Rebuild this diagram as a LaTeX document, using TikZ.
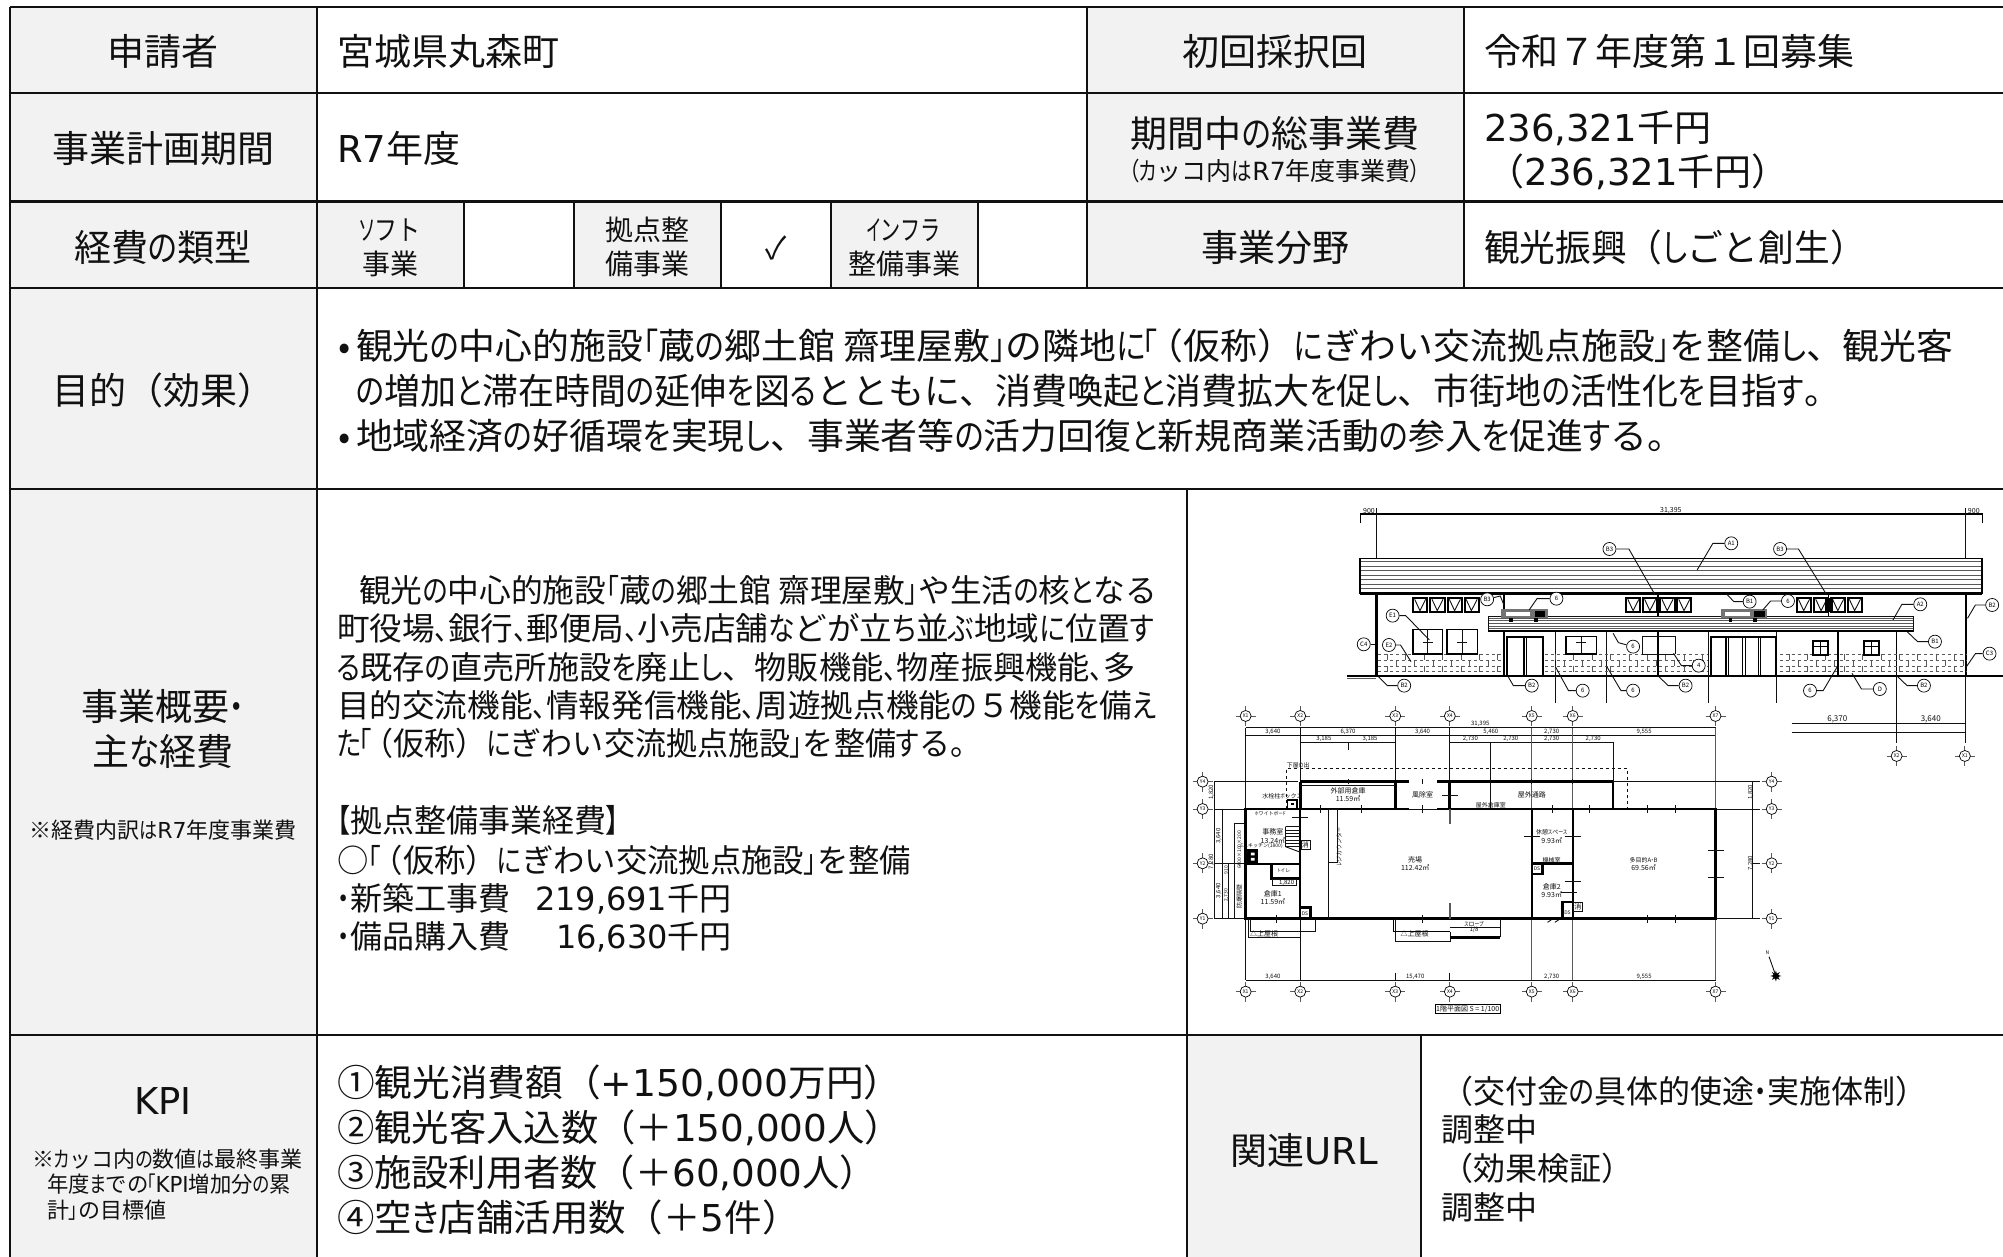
\documentclass[tikz,border=0pt]{standalone}
\usepackage{fontspec}
\usepackage{graphicx}
\usetikzlibrary{shapes.geometric}
\setmainfont{Noto Sans CJK JP}
\newfontfamily\basef{Noto Sans CJK JP}
\newfontfamily\kanaf{Noto Sans CJK JP}[RawFeature={+palt;-kern},FakeStretch=0.82]
\newfontfamily\kataf{Noto Sans CJK JP}[RawFeature={+palt;-kern},FakeStretch=0.76]
\newfontfamily\latf{DejaVu Sans}
\newcommand\lf[1]{{\latf #1}}
\newcommand\tk{\kern-.08em}
\newcommand\pk{\kern-.3em}
\makeatletter
\newXeTeXintercharclass\kanaC
\newXeTeXintercharclass\kataC
\@tempcnta="3041
\loop \XeTeXcharclass\@tempcnta=\kanaC \ifnum\@tempcnta<"30FF \advance\@tempcnta 1 \repeat
\@tempcnta="30A1
\loop \XeTeXcharclass\@tempcnta=\kataC \ifnum\@tempcnta<"30FA \advance\@tempcnta 1 \repeat
\XeTeXcharclass"300C=\kanaC \XeTeXcharclass"300D=\kanaC \XeTeXcharclass"3001=\kanaC \XeTeXcharclass"3002=\kanaC
\XeTeXcharclass"3010=\kanaC \XeTeXcharclass"3011=\kanaC
\def\setcl#1{%
 \XeTeXinterchartoks #1 \kanaC={\kanaf}\XeTeXinterchartoks \kanaC #1={\basef}%
 \XeTeXinterchartoks #1 \kataC={\kataf}\XeTeXinterchartoks \kataC #1={\basef}}
\setcl{0}\setcl{1}\setcl{2}\setcl{3}\setcl{4095}
\XeTeXinterchartoks \kanaC \kataC={\kataf}
\XeTeXinterchartoks \kataC \kanaC={\kanaf}
\makeatother
\definecolor{cellgray}{HTML}{F2F2F2}
\definecolor{ink}{HTML}{111111}
\tikzset{
 lab/.style={inner sep=0pt,outer sep=0pt,text=ink},
 grid/.style={draw=ink,line width=2.6pt},
 thinl/.style={draw=ink,line width=0.9pt},
 hair/.style={draw=black!65,line width=0.7pt},
 med/.style={draw=black,line width=1.6pt},
 wall/.style={draw=black,line width=2.8pt},
 calloutc/.style={circle,draw=black,line width=0.7pt,fill=white,minimum size=13pt,inner sep=0pt},
}
% left / centred single lines of text, given the vertical centre of the line
\newcommand\tl[5]{\node[lab,anchor=base west] (#1) at (#2,{#3+0.385*#4}) {\XeTeXinterchartokenstate=1 \fontsize{#4}{#4}\selectfont #5};}
\newcommand\tc[5]{\node[lab,anchor=base] (#1) at (#2,{#3+0.385*#4}) {\XeTeXinterchartokenstate=1 \fontsize{#4}{#4}\selectfont #5};}
% small drawing label: x y size rotation text
\newcommand\dl[5]{\node[lab,rotate=#4] at (#1,#2) {\XeTeXinterchartokenstate=1 \fontsize{#3}{#3}\selectfont #5};}
\newcommand\axm[3]{%
 \draw[hair,line width=0.9pt] (#1,#2) ++(-10pt,0) -- ++(20pt,0);
 \draw[hair,line width=0.9pt] (#1,#2) ++(0,-10pt) -- ++(0,20pt);
 \node[circle,draw=black,line width=0.7pt,fill=white,minimum size=11pt,inner sep=0pt] at (#1,#2) {\XeTeXinterchartokenstate=1 \fontsize{5}{5}\selectfont #3};}
\newcommand\co[4]{\node[calloutc] (#1) at (#2,#3) {\XeTeXinterchartokenstate=1 \fontsize{6}{6}\selectfont #4};}
\begin{document}
\begin{tikzpicture}[x=1pt,y=-1pt]
\useasboundingbox (0,0) rectangle (2003,1257);
\fill[white] (0,0) rectangle (2003,1257);
\clip (0,0) rectangle (2003,1257);
% cell fills
\fill[cellgray] (10,7) rectangle (317,1270);
\fill[cellgray] (1087,7) rectangle (1464,288);
\fill[cellgray] (317,201) rectangle (464,288);
\fill[cellgray] (574,201) rectangle (721,288);
\fill[cellgray] (831,201) rectangle (978,288);
\fill[cellgray] (1187,1035) rectangle (1421,1270);
% table rules
\draw[grid] (10,7) -- (2010,7);
\draw[grid] (10,93) -- (2010,93);
\draw[grid] (10,201.5) -- (2010,201.5);
\draw[grid] (10,288) -- (2010,288);
\draw[grid] (10,489) -- (2010,489);
\draw[grid] (10,1035) -- (2010,1035);
\draw[grid] (10,7) -- (10,1270);
\draw[grid] (317,7) -- (317,1270);
\draw[grid] (1087,7) -- (1087,288);
\draw[grid] (1464,7) -- (1464,288);
\draw[grid,line width=1.8pt] (464,201.5) -- (464,288);
\draw[grid,line width=1.8pt] (574,201.5) -- (574,288);
\draw[grid,line width=1.8pt] (721,201.5) -- (721,288);
\draw[grid,line width=1.8pt] (831,201.5) -- (831,288);
\draw[grid,line width=1.8pt] (978,201.5) -- (978,288);
\draw[grid] (1187,489) -- (1187,1270);
\draw[grid] (1421,1035) -- (1421,1270);
% row heads and values
\tc{a1}{163}{51}{37}{申請者}
\tl{a2}{337}{51}{37}{宮城県丸森町}
\tc{a3}{1275}{51}{37}{初回採択回}
\tl{a4}{1484}{51}{37}{令和７年度第１回募集}
\tc{b1}{163}{148}{37}{事業計画期間}
\tl{b2}{337}{148}{37}{\lf{R7}年度}
\tc{b3}{1275}{133}{37}{期間中の総事業費}
\tc{b4}{1275}{171}{25}{{\kanaf （}カッコ内は\lf{R7}年度事業費{\kanaf ）}}
\tl{b5}{1484}{127}{37}{\lf{236,321}千円}
\tl{b6}{1484}{171}{37}{\hspace{0.1em}（\lf{236,321}千円）}
\tc{c1}{163}{247}{37}{経費の類型}
\tc{c2}{390}{230}{28}{\scalebox{.82}[1]{ソフト}}
\tc{c3}{390}{264}{28}{事業}
\tc{c4}{647}{230}{28}{拠点整}
\tc{c5}{647}{264}{28}{備事業}
\tc{c6}{776}{248}{31}{✓}
\tc{c7}{904}{230}{28}{\scalebox{.72}[1]{インフラ}}
\tc{c8}{904}{264}{28}{整備事業}
\tc{c9}{1275}{247}{37}{事業分野}
\tl{c10}{1484}{247}{37}{\scalebox{.965}[1]{観光振興（しごと創生）}}
\tc{d1}{163}{390}{37}{目的（効果）}
\tl{d2}{338}{346}{36}{\makebox[18pt][l]{•}\scalebox{1.024}[1]{観光の中心的施設「蔵の郷土館 齋理屋敷」の隣地に\tk「\pk（仮称）にぎわい交流拠点施設」を整備し、観光客}}
\tl{d3}{356}{391}{36}{の増加と滞在時間の延伸を図るとともに、消費喚起と消費拡大を促し、市街地の活性化を目指す。}
\tl{d4}{338}{436}{36}{\makebox[18pt][l]{•}\scalebox{1.024}[1]{地域経済の好循環を実現し、事業者等の活力回復と新規商業活動の参入を促進する。}}
\tc{e1}{163}{706}{37}{事業概要・}
\tc{e2}{163}{751}{37}{主な経費}
\tc{e3}{163}{830}{22}{※経費内訳は\lf{R7}年度事業費}
\tl{e4}{359}{590}{32}{\scalebox{.992}[1]{観光の中心的施設「蔵の郷土館 齋理屋敷」や生活の核となる}}
\tl{e5}{337}{628.5}{32}{\scalebox{1.019}[1]{町役場、銀行、郵便局、小売店舗などが立ち並ぶ地域に位置す}}
\tl{e6}{337}{667}{32}{\scalebox{1.006}[1]{る既存の直売所施設を廃止し、物販機能、物産振興機能、多}}
\tl{e7}{337}{705}{32}{\scalebox{1.02}[1]{目的交流機能、情報発信機能、周遊拠点機能の５機能を備え}}
\tl{e8}{337}{743.5}{32}{\scalebox{.97}[1]{た\tk「\pk（仮称）にぎわい交流拠点施設」を整備する。}}
\tl{e9}{337}{820}{32}{【拠点整備事業経費】}
\tl{e10}{337}{860}{32}{\scalebox{.98}[1]{○「\pk（仮称）にぎわい交流拠点施設」を整備}}
\tl{e11}{337}{898}{32}{・新築工事費}
\tl{e12}{535}{898}{32}{\lf{219,691}千円}
\tl{e13}{337}{936}{32}{・備品購入費}
\tl{e14}{556}{936}{32}{\lf{16,630}千円}
\tc{f1}{163}{1100}{37}{\lf{KPI}}
\tl{f2}{32}{1159}{22}{※カッコ内の数値は最終事業}
\tl{f3}{47}{1184}{22}{\scalebox{.97}[1]{年度までの\tk「\lf{KPI}増加分の累}}
\tl{f4}{47}{1210}{22}{計」の目標値}
\tl{f5}{337}{1082}{37}{\scalebox{1.019}[1]{①観光消費額（\lf{+150,000}万円）}}
\tl{f6}{337}{1127}{37}{\scalebox{1.009}[1]{②観光客入込数（＋\lf{150,000}人）}}
\tl{f7}{337}{1172}{37}{\scalebox{1.007}[1]{③施設利用者数（＋\lf{60,000}人）}}
\tl{f8}{337}{1217}{37}{\scalebox{1.012}[1]{④空き店舗活用数（＋\lf{5}件）}}
\tc{g1}{1304}{1150}{37}{関連\lf{URL}}
\tl{g2}{1441}{1091}{32}{（交付金の具体的使途・実施体制）}
\tl{g3}{1441}{1129}{32}{調整中}
\tl{g4}{1441}{1168}{32}{（効果検証）}
\tl{g5}{1441}{1207}{32}{調整中}
% ---------- elevation ----------
\begin{scope}[x=0.525pt,y=-0.3333pt,shift={(1180pt,-490pt)}]
 % dimension line
 \draw[med,line width=1.1pt] (343,100) -- (343,72) -- (1528,72) -- (1528,100);
 \draw[thinl] (374,55) -- (374,205);
 \draw[thinl] (1497,55) -- (1497,205);
 \dl{360}{63}{7}{0}{900}
 \dl{935}{63}{7}{0}{31,395}
 \dl{1512}{63}{7}{0}{900}
 % roof
 \foreach \y in {215,228,242,255,268,282,295} {\draw[hair] (343,\y) -- (1528,\y);}
 \draw[med,fill=none] (343,205) rectangle (1528,310);
 \draw[wall] (343,310) -- (1528,310);
 % walls
 \draw[wall] (374,310) -- (374,558);
 \draw[wall] (1497,310) -- (1497,558);
 \draw[wall] (318,558) -- (1568,558);
 \draw[hair] (318,566) -- (374,566);
 % upper windows
 \foreach \x in {444,477,510,542,850,882,915,947,1175,1208,1240,1272} {
  \draw[med,line width=1.9pt] (\x,323) rectangle (\x+27,366);
  \draw[thinl] (\x+3,328) -- (\x+13,362) -- (\x+24,328);
 }
 \fill[black] (1228,323) rectangle (1243,366);
 % canopy
 \foreach \y in {385,392,400,408,415} {\draw[hair] (587,\y) -- (1397,\y);}
 \draw[thinl] (587,378) rectangle (1397,425);
 \draw[wall] (587,423) -- (1397,423);
 % columns
 \foreach \x in {617,911} {\draw[med] (\x,310) -- (\x,378);}
 \draw[med] (1235,310) -- (1235,378);
 \foreach \x in {617,911,1253,1365} {\draw[med] (\x,425) -- (\x,558);}
 \foreach \x in {715,813,1007,1137} {\draw[thinl] (\x,425) -- (\x,638);}
 \draw[thinl] (1365,558) -- (1365,760);
 \draw[thinl] (1497,558) -- (1497,760);
 % brick bands
 \foreach \a/\b in {377/615,695/1005,1142/1497} {
  \foreach \y in {492,510,528,545} {\draw[hair,dashed] (\a,\y) -- (\b,\y);}
 }
 \foreach \x in {395,430,465,500,535,570,605,715,750,785,820,855,890,925,960,995,1160,1195,1230,1265,1300,1335,1370,1405,1440,1475} {
  \draw[hair] (\x,492) -- (\x,510);
  \draw[hair] (\x+17,510) -- (\x+17,528);
  \draw[hair] (\x,528) -- (\x,545);
 }
 % rooftop units
 \foreach \x in {612,1030} {
  \fill[black!55] (\x,357) rectangle (\x+88,385);
  \fill[white] (\x+8,366) rectangle (\x+55,378);
  \fill[black] (\x+64,362) rectangle (\x+84,380);
  \fill[black] (\x+15,385) rectangle (\x+22,396);
  \fill[black] (\x+62,385) rectangle (\x+69,396);
 }
 % ground floor windows
 \foreach \a/\b/\t in {444/500/418,508/567/418,735/793/440} {
  \draw[med] (\a,492) rectangle (\b,\t);
  \draw[thinl] ({(\a+\b)/2},\t) -- ({(\a+\b)/2},488);
  \draw[thinl] ({(\a+\b)/2-10},456) -- ({(\a+\b)/2+10},456);
 }
 \draw[thinl] (880,492) -- (880,440) -- (943,440) -- (943,492) (880,492) -- (943,492);
 % small grid windows
 \foreach \x in {1205,1302} {
  \draw[med,line width=1.9pt] (\x,452) rectangle (\x+30,495);
  \draw[med] (\x+15,452) -- (\x+15,495);
  \draw[med] (\x,470) -- (\x+30,470);
 }
 % doors
 \fill[white] (622,440) rectangle (692,556);
 \draw[med,line width=1.9pt] (622,556) -- (622,440) -- (692,440) -- (692,556);
 \draw[med] (655,440) -- (655,556) (660,440) -- (660,556);
 \fill[white] (1012,442) rectangle (1135,556);
 \draw[med,line width=1.9pt] (1012,556) -- (1012,442) -- (1135,442) -- (1135,556);
 \foreach \x in {1040,1045,1072,1077,1102,1105} {\draw[med,line width=1.2pt] (\x,442) -- (\x,556);}
 % callouts and leaders
 \co{ca1}{1050}{160}{A1}    \draw[thinl] (ca1) -- (1015,160) -- (985,240);
 \co{cb3a}{818}{177}{B3}    \draw[thinl] (cb3a) -- (855,177) -- (905,315);
 \co{cb3b}{1143}{177}{B3}   \draw[thinl] (cb3b) -- (1178,177) -- (1232,315);
 \co{cb3c}{585}{328}{B3}    \draw[thinl] (cb3c) -- (610,318) -- (617,345);
 \co{c6a}{717}{326}{6}      \draw[thinl] (c6a) -- (680,326) -- (665,360);
 \co{cb1a}{1085}{335}{B1}   \draw[thinl] (cb1a) -- (1055,335) -- (1040,310);
 \co{c6b}{1158}{333}{6}     \draw[thinl] (c6b) -- (1125,333) -- (1110,360);
 \co{ca2}{1410}{343}{A2}    \draw[thinl] (ca2) -- (1375,343) -- (1358,390);
 \co{cb2a}{1547}{345}{B2}   \draw[thinl] (cb2a) -- (1515,345) -- (1500,385);
 \co{ce1}{405}{377}{E1}     \draw[thinl] (ce1) -- (430,377) -- (475,450);
 \co{ce2}{398}{465}{E2}     \draw[thinl] (ce2) -- (420,465) -- (440,515);
 \co{cc4}{350}{463}{C4}     \draw[thinl] (cc4) -- (372,463);
 \co{c6c}{863}{470}{6}      \draw[thinl] (c6c) -- (835,458) -- (825,430);
 \co{cb1b}{1438}{455}{B1}   \draw[thinl] (cb1b) -- (1405,455) -- (1385,425);
 \co{cc3}{1542}{491}{C3}    \draw[thinl] (cc3) -- (1515,491) -- (1498,530);
 \co{c4a}{988}{527}{4}      \draw[thinl] (c4a) -- (955,527) -- (940,490);
 \co{cb2b}{427}{587}{B2}    \draw[thinl] (cb2b) -- (395,587) -- (378,560);
 \co{cb2c}{670}{587}{B2}    \draw[thinl] (cb2c) -- (635,587) -- (625,560);
 \co{c6d}{767}{602}{6}      \draw[thinl] (c6d) -- (740,602) -- (715,530);
 \co{c6e}{863}{602}{6}      \draw[thinl] (c6e) -- (840,602) -- (813,530);
 \co{cb2d}{963}{587}{B2}    \draw[thinl] (cb2d) -- (930,587) -- (912,560);
 \co{c6f}{1200}{602}{6}     \draw[thinl] (c6f) -- (1225,602) -- (1252,530);
 \co{cd}{1333}{597}{D}      \draw[thinl] (cd) -- (1298,597) -- (1280,550);
 \co{cb2e}{1417}{587}{B2}   \draw[thinl] (cb2e) -- (1385,587) -- (1367,560);
 % right-hand dimension block
 \draw[thinl] (1165,700) -- (1497,700);
 \draw[thinl] (1165,728) -- (1497,728);
 \dl{1252}{688}{8}{0}{6,370}
 \dl{1430}{688}{8}{0}{3,640}
 \axm{1365}{798}{X2}
 \axm{1495}{798}{X1}
 % upper dimension rows of the plan
 \draw[thinl] (125,713) -- (1020,713);
 \draw[thinl] (125,735) -- (1020,735);
 \draw[thinl] (229,757) -- (410,757);
 \draw[thinl] (514,757) -- (826,757);
 \dl{572}{703}{6}{0}{31,395}
 \dl{177}{725}{6}{0}{3,640} \dl{320}{725}{6}{0}{6,370} \dl{462}{725}{6}{0}{3,640}
 \dl{592}{725}{6}{0}{5,460} \dl{708}{725}{6}{0}{2,730} \dl{884}{725}{6}{0}{9,555}
 \dl{274}{747}{6}{0}{3,185} \dl{362}{747}{6}{0}{3,185}
 \dl{553}{747}{6}{0}{2,730} \dl{630}{747}{6}{0}{2,730} \dl{708}{747}{6}{0}{2,730} \dl{787}{747}{6}{0}{2,730}
 \foreach \x/\n in {125/X1,229/X2,410/X3,514/X4,670/X5,748/X6,1020/X7} {\axm{\x}{678}{\n}}
\end{scope}
% ---------- plan ----------
\begin{scope}[x=0.525pt,y=-0.3333pt,shift={(1180pt,-730pt)}]
 % grid and dimension lines
 \draw[thinl] (125,-7) -- (125,750);
 \draw[thinl] (229,-7) -- (229,750);
 \draw[thinl] (410,-7) -- (410,155) (410,728) -- (410,750);
 \draw[thinl] (514,-7) -- (514,155) (514,728) -- (514,750);
 \draw[thinl] (592,37) -- (592,237);
 \draw[thinl] (320,37) -- (320,60);
 \draw[hair,line width=1.1pt] (670,-7) -- (670,750);
 \draw[hair,line width=1.1pt] (748,-7) -- (748,750);
 \draw[hair,line width=1.1pt] (1020,-7) -- (1020,750);
 \draw[thinl] (826,37) -- (826,155);
 \draw[thinl] (125,750) -- (1020,750);
 \dl{177}{742}{6}{0}{3,640} \dl{448}{742}{6}{0}{15,470} \dl{708}{742}{6}{0}{2,730} \dl{884}{742}{6}{0}{9,555}
 \foreach \y in {155,237,400,566} {\draw[thinl] (65,\y) -- (125,\y);}
 \draw[thinl] (65,155) -- (225,155);
 \draw[thinl] (825,155) -- (1105,155);
 \foreach \y in {237,566} {\draw[thinl] (1020,\y) -- (1105,\y);}
 \draw[thinl] (1090,400) -- (1105,400);
 \draw[thinl] (65,155) -- (65,566);
 \draw[thinl] (80,237) -- (80,566);
 \draw[thinl] (92,400) -- (92,566);
 \draw[thinl] (103,280) -- (122,280) (103,280) -- (103,566) -- (122,566);
 \draw[thinl] (1090,155) -- (1090,566);
 \dl{60}{187}{6}{90}{1,820} \dl{60}{395}{6}{90}{7,280}
 \dl{74}{318}{6}{90}{3,640} \dl{74}{482}{6}{90}{3,640}
 \dl{88}{420}{5}{90}{910} \dl{88}{495}{5}{90}{2,730}
 \dl{113}{360}{5}{90}{6400×100×200}
 \dl{113}{500}{6}{90}{防爆隔壁}
 \dl{1087}{187}{6}{90}{1,820} \dl{1087}{400}{6}{90}{7,280}
 \foreach \y/\n in {155/Y4,237/Y3,400/Y2,566/Y1} {\axm{43}{\y}{\n} \axm{1127}{\y}{\n}}
 \foreach \x/\n in {125/X1,229/X2,410/X3,514/X4,670/X5,748/X6,1020/X7} {\axm{\x}{785}{\n}}
 % eaves
 \draw[thinl,dashed] (203,237) -- (203,115) -- (852,115) -- (852,237);
 \dl{225}{105}{6}{0}{下屋の出}
 % outer walls
 \draw[wall] (125,237) rectangle (1020,566);
 \draw[wall] (229,155) -- (437,155);
 \draw[wall] (490,155) -- (825,155);
 \draw[wall] (229,155) -- (229,237);
 \draw[wall] (410,155) -- (410,237);
 \draw[wall] (514,155) -- (514,237);
 \draw[med] (825,155) -- (825,237);
 \draw[thinl] (229,165) -- (410,165);
 % doors in outer walls (openings)
 \fill[white] (437,231) rectangle (490,243);
 \draw[thinl] (437,237) -- (490,237);
 % inner walls
 \draw[med] (670,237) -- (670,566);
 \draw[med] (748,237) -- (748,566);
 \draw[wall] (670,400) -- (748,400);
 \draw[wall] (125,402) -- (229,402);
 \draw[med] (229,237) -- (229,566);
 \draw[hair,line width=1.5pt] (514,237) -- (514,282);
 \draw[hair,line width=1.5pt] (514,520) -- (514,566);
 % toilet
 \draw[wall] (175,402) -- (175,445) -- (229,445);
 \draw[thinl] (177,448) rectangle (222,465);
 \dl{203}{458}{6}{0}{1,820}
 \dl{198}{421}{5}{0}{トイレ}
 % DS boxes
 \draw[wall] (229,533) -- (248,533) -- (248,566);
 \dl{238}{550}{5}{0}{DS}
 \draw[wall] (690,403) -- (690,432) -- (670,432);
 \dl{680}{417}{5}{0}{DS}
 \draw[wall] (728,566) -- (728,516) -- (748,516);
 \dl{738}{548}{5}{0}{DS}
 \draw[thinl] (231,332) rectangle (248,357);
 \dl{239}{344}{7}{0}{消}
 \draw[thinl] (750,516) rectangle (767,544);
 \dl{758}{530}{7}{0}{消}
 % water box
 \draw[med] (205,210) rectangle (223,235);
 \fill[black] (212,220) rectangle (217,226);
 % stair
 \foreach \y in {290,300,...,350} {\draw[thinl] (201,\y) -- (228,\y);}
 \draw[thinl] (201,290) -- (201,350) -- (228,366);
 % kitchenette
 \fill[black] (127,358) rectangle (148,400);
 \fill[white] (135,368) rectangle (142,376) (135,384) rectangle (142,392);
 % counter
 \draw[thinl] (283,237) -- (283,566);
 \draw[thinl] (283,237) -- (300,237) -- (300,397) -- (283,397);
 \dl{303}{350}{6}{90}{レジカウンター}
 % wall ticks
 \foreach \x in {184,462,890,943} {\draw[thinl] (\x,554) -- (\x,578);}
 \foreach \x in {267,345,462,710,780,890,943} {\draw[thinl] (\x,225) -- (\x,249);}
 \foreach \x/\y in {670/320,748/320,748/455,740/488,1020/360,1020/443,514/197,229/262} {\draw[thinl] (\x,\y) ++(-8pt,0) -- ++(16pt,0);}
 \foreach \x in {320,462,592,670,748} {\draw[thinl] (\x,148) -- (\x,162);}
 \draw[thinl] (700,577) -- (707,570) (714,577) -- (721,570);
 % outside steps and ramp
 \draw[thinl] (135,566) -- (135,605) -- (258,605) -- (258,566);
 \draw[thinl] (130,566) -- (130,622) -- (229,622);
 \dl{160}{612}{7}{0}{△上屋根}
 \draw[med] (407,566) -- (407,605) -- (515,605);
 \draw[thinl] (411,566) -- (411,634) -- (515,634) -- (515,605);
 \draw[wall] (515,622) -- (610,622);
 \draw[thinl] (515,592) -- (610,592);
 \draw[thinl] (610,566) -- (610,622);
 \dl{447}{612}{7}{0}{△上屋根}
 \dl{560}{582}{6}{0}{スロープ}
 \dl{560}{598}{6}{0}{1/8}
 % room names
 \dl{320}{183}{7}{0}{外部用倉庫} \dl{320}{205}{7}{0}{11.59㎡}
 \dl{462}{195}{7}{0}{風除室}
 \dl{670}{195}{7}{0}{屋外通路}
 \dl{195}{198}{6}{0}{水栓柱ボックス}
 \dl{592}{225}{6}{0}{屋外倉庫室}
 \dl{172}{250}{5}{0}{ホワイトボード}
 \dl{177}{307}{7}{0}{事務室} \dl{177}{330}{7}{0}{13.24㎡}
 \dl{155}{349}{5}{0}{ミニキッチン(1800)}
 \dl{448}{390}{7}{0}{売場} \dl{448}{412}{7}{0}{112.42㎡}
 \dl{708}{307}{6}{0}{休憩スペース} \dl{708}{330}{7}{0}{9.93㎡}
 \dl{708}{392}{6}{0}{機械室}
 \dl{883}{390}{6}{0}{多目的A・B} \dl{883}{412}{7}{0}{69.56㎡}
 \dl{708}{472}{7}{0}{倉庫2} \dl{708}{494}{7}{0}{9.93㎡}
 \dl{177}{492}{7}{0}{倉庫1} \dl{177}{514}{7}{0}{11.59㎡}
 % north mark
 \draw[thinl] (1122,680) -- (1135,738);
 \node[star,star points=8,star point ratio=2.2,fill=black,minimum size=11pt,inner sep=0pt] at (1135,738) {};
 \dl{1119}{668}{5}{0}{N}
 % drawing title
 \node[draw=black,line width=0.9pt,lab,inner sep=1pt] at (548,838) {\XeTeXinterchartokenstate=1 \fontsize{7}{7}\selectfont 1階平面図\ S = 1/100};
\end{scope}
\end{tikzpicture}
\end{document}
